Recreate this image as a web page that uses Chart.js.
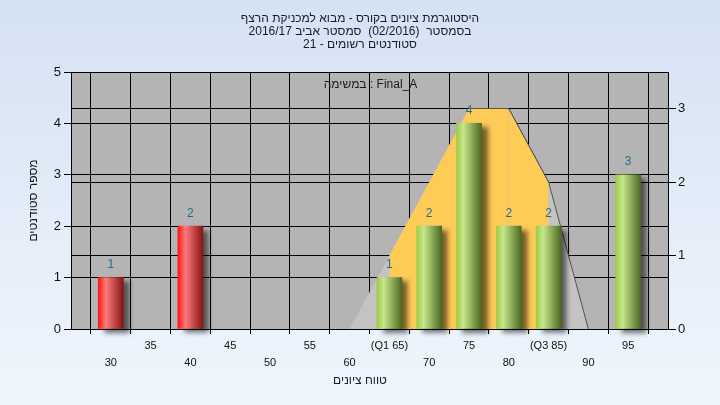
<!DOCTYPE html>
<html>
<head>
<meta charset="utf-8">
<script src="https://cdn.jsdelivr.net/npm/chart.js@4"></script>
<style>
  html, body { margin: 0; padding: 0; }
  body {
    width: 720px; height: 405px; overflow: hidden;
    background: linear-gradient(#d5e2f3, #f0f6fd);
  }
</style>
</head>
<body>
<canvas id="chart" width="720" height="405"></canvas>
<script>
// data
const grades = [30, 40, 65, 70, 75, 80, 85, 95];
const counts = [1, 2, 1, 2, 4, 2, 2, 3];
const passMark = 55;
const curveX = [60, 65, 70, 75, 80, 85, 90];
const curveY = [0, 1, 2, 3, 3, 2, 0];
const q1 = 65;
const q3 = 85;

const titleLines = [
  'היסטוגרמת ציונים בקורס - מבוא למכניקת הרצף',
  'בסמסטר  (02/2016)  סמסטר אביב 2016/17',
  'סטודנטים רשומים - 21'
];
const taskLabel = 'במשימה : Final_A';
const xTitle = 'טווח ציונים';
const yTitle = 'מספר סטודנטים';

const FONT = '"Liberation Sans", "DejaVu Sans", sans-serif';
const BAR_W = 25;

function barFill(ctx) {
  if (ctx.type !== 'data') return '#888';
  const chart = ctx.chart;
  if (!chart.chartArea) return;
  const g = grades[ctx.dataIndex];
  const px = chart.scales.x.getPixelForValue(g);
  if (!isFinite(px)) return;
  const grad = chart.ctx.createLinearGradient(px - BAR_W / 2, 0, px + BAR_W / 2, 0);
  if (g < passMark) {
    grad.addColorStop(0, '#ff1414');
    grad.addColorStop(0.3, '#ff7b7b');
    grad.addColorStop(1, '#861414');
  } else {
    grad.addColorStop(0, '#9fcb44');
    grad.addColorStop(0.28, '#c6e78c');
    grad.addColorStop(1, '#4b6822');
  }
  return grad;
}

const plotBg = {
  id: 'plotBg',
  beforeDraw(chart) {
    const { ctx, chartArea: a } = chart;
    ctx.save();
    ctx.fillStyle = '#b4b4b4';
    ctx.fillRect(a.left, a.top, a.right - a.left, a.bottom - a.top);
    ctx.restore();
  }
};

const barShadow = {
  id: 'barShadow',
  beforeDatasetDraw(chart, args) {
    if (chart.data.datasets[args.index].type !== 'bar') return;
    const ctx = chart.ctx;
    ctx.save();
    ctx.shadowColor = 'rgba(0,0,0,0.55)';
    ctx.shadowBlur = 5;
    ctx.shadowOffsetX = 6;
    ctx.shadowOffsetY = 4;
  },
  afterDatasetDraw(chart, args) {
    if (chart.data.datasets[args.index].type !== 'bar') return;
    chart.ctx.restore();
  }
};

const texts = {
  id: 'texts',
  afterDatasetsDraw(chart) {
    const ctx = chart.ctx;
    const a = chart.chartArea;
    const meta = chart.getDatasetMeta(0);
    ctx.save();
    ctx.font = '12px ' + FONT;
    ctx.textAlign = 'center';
    ctx.textBaseline = 'middle';
    ctx.direction = 'ltr';
    ctx.fillStyle = '#2c6a8a';
    meta.data.forEach((el, i) => {
      ctx.fillText(String(counts[i]), el.x, el.y - 13);
    });
    ctx.fillStyle = '#1a1a1a';
    ctx.fillText(taskLabel, (a.left + a.right) / 2 + 1, a.top + 13);
    // chart title and x axis title, hebrew reading direction
    ctx.direction = 'rtl';
    ctx.fillStyle = '#1a1a2a';
    titleLines.forEach((line, i) => ctx.fillText(line, 360, 18.5 + i * 13));
    ctx.fillText(xTitle, 360, 381);
    ctx.restore();
  }
};

new Chart(document.getElementById('chart'), {
  data: {
    datasets: [
      {
        type: 'bar',
        data: grades.map((g, i) => ({ x: g, y: counts[i] })),
        yAxisID: 'y',
        barThickness: BAR_W,
        backgroundColor: barFill,
        borderWidth: 0,
        clip: false,
        order: 0
      },
      {
        type: 'line',
        data: curveX.map((x, i) => ({ x: x, y: curveY[i] }))
          .filter(p => p.x >= q1 && p.x <= q3),
        yAxisID: 'y1',
        fill: 'origin',
        backgroundColor: '#fecb57',
        borderWidth: 1,
        borderColor: '#505050',
        segment: { borderColor: c => c.p0.parsed.x >= 80 ? '#505050' : 'rgba(0,0,0,0)' },
        pointRadius: 0,
        tension: 0,
        order: 1
      },
      {
        type: 'line',
        data: curveX.map((x, i) => ({ x: x, y: curveY[i] })),
        yAxisID: 'y1',
        fill: 'origin',
        backgroundColor: '#c3c3c3',
        borderWidth: 1,
        borderColor: '#505050',
        segment: { borderColor: c => c.p0.parsed.x >= 80 ? '#505050' : 'rgba(0,0,0,0)' },
        pointRadius: 0,
        tension: 0,
        order: 2
      }
    ]
  },
  options: {
    responsive: false,
    animation: false,
    devicePixelRatio: 1,
    layout: { padding: { top: 72 } },
    plugins: {
      legend: { display: false },
      tooltip: { enabled: false }
    },
    scales: {
      x: {
        type: 'linear',
        min: 25,
        max: 100,
        offset: false,
        afterFit: s => { s.height = 76; },
        ticks: {
          stepSize: 5,
          autoSkip: false,
          maxRotation: 0,
          padding: 3,
          color: '#111',
          font: { family: FONT, size: 11, lineHeight: '17px' },
          callback: v => {
            if (v <= 25 || v >= 100) return '';
            let t = String(v);
            if (v === q1) t = '(Q1 ' + v + ')';
            if (v === q3) t = '(Q3 ' + v + ')';
            return (v / 5) % 2 === 1 ? t : ['', t];
          }
        },
        grid: { color: '#000', tickLength: 5 },
        border: { color: '#000' }
      },
      y: {
        position: 'left',
        min: 0,
        max: 5,
        afterFit: s => { s.width = 71; },
        ticks: { stepSize: 1, padding: 3, color: '#111', font: { family: FONT, size: 13 } },
        grid: { color: '#000', tickLength: 7 },
        border: { color: '#000' },
        title: {
          display: true,
          text: yTitle,
          color: '#1a1a1a',
          font: { family: FONT, size: 12 },
          padding: { top: 26, bottom: 0 }
        }
      },
      y1: {
        position: 'right',
        min: 0,
        max: 3.5,
        afterFit: s => { s.width = 52; },
        afterBuildTicks: s => { s.ticks = s.ticks.filter(t => Number.isInteger(t.value)); },
        ticks: { stepSize: 1, padding: 2, color: '#111', font: { family: FONT, size: 13 } },
        grid: { color: '#000', tickLength: 8 },
        border: { color: '#000' }
      }
    }
  },
  plugins: [plotBg, barShadow, texts]
});
</script>
</body>
</html>
